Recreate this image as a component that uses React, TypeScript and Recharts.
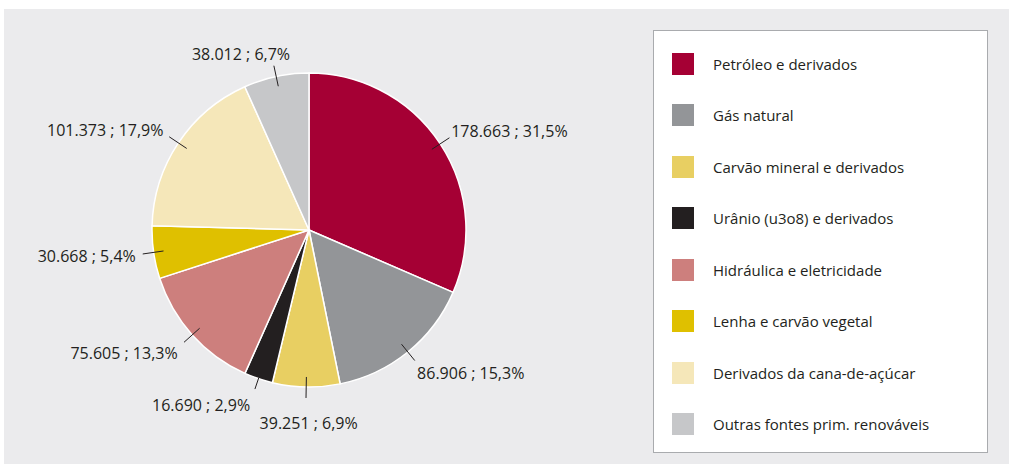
import { PieChart, Pie, Cell, Legend } from 'recharts'

// Oferta interna de energia por fonte (mil tep ; %)
const sources = [
  'Petróleo e derivados',
  'Gás natural',
  'Carvão mineral e derivados',
  'Urânio (u3o8) e derivados',
  'Hidráulica e eletricidade',
  'Lenha e carvão vegetal',
  'Derivados da cana-de-açúcar',
  'Outras fontes prim. renováveis',
]
const amounts = [178663, 86906, 39251, 16690, 75605, 30668, 101373, 38012]
const amountLabels = ['178.663', '86.906', '39.251', '16.690', '75.605', '30.668', '101.373', '38.012']
const shareLabels = ['31,5%', '15,3%', '6,9%', '2,9%', '13,3%', '5,4%', '17,9%', '6,7%']
const colors = ['#a50034', '#939598', '#e8cf62', '#231f20', '#cd7f7d', '#dfc000', '#f5e7b9', '#c6c7c9']

const data = sources.map((name, i) => ({
  name,
  value: amounts[i],
  label: `${amountLabels[i]} ; ${shareLabels[i]}`,
}))

const FONT = '"Open Sans", "Noto Sans", sans-serif'
const TEXT = '#231f20'
const RADIAN = Math.PI / 180

const clamp = (v: number) => Math.max(-1, Math.min(1, v))

const renderLabel = (props: any) => {
  const { cx, cy, midAngle, outerRadius, payload, index } = props
  const ux = Math.cos(-midAngle * RADIAN)
  const uy = Math.sin(-midAngle * RADIAN)
  const r1 = index === 3 ? outerRadius - 1 : outerRadius - 10
  const r2 = outerRadius + 11
  const x1 = cx + r1 * ux
  const y1 = cy + r1 * uy
  const x2 = cx + r2 * ux
  const y2 = cy + r2 * uy
  const text: string = payload.label
  const w = text.length * 8
  const k = clamp(ux * 3)
  // text hangs off the end of the leader line, on the side it points to
  const tx = x2 + k * (w / 2 + (ux < 0 ? 4 : 0)) + (1 - Math.abs(k)) * 6
  const ty = y2 + (uy > 0 ? uy * 16 + (1 - Math.abs(k)) * 10 : uy * 12)
  return (
    <g>
      <line x1={x1} y1={y1} x2={x2} y2={y2} stroke={TEXT} strokeWidth={1} />
      <text
        x={tx}
        y={ty}
        textAnchor="middle"
        dominantBaseline="central"
        fill={TEXT}
        fontSize={16}
        fontFamily={FONT}
      >
        {text}
      </text>
    </g>
  )
}

const renderLegend = () => (
  <div
    style={{
      width: 335,
      height: 423,
      boxSizing: 'border-box',
      background: '#ffffff',
      border: '1px solid #a9abae',
      paddingTop: 7,
    }}
  >
    {data.map((d, i) => (
      <div key={d.name} style={{ display: 'flex', alignItems: 'center', height: 51.5 }}>
        <span
          style={{
            display: 'inline-block',
            width: 22,
            height: 22,
            marginLeft: 18,
            background: colors[i],
          }}
        />
        <span style={{ marginLeft: 19, fontSize: 15, fontFamily: FONT, color: TEXT }}>{d.name}</span>
      </div>
    ))}
  </div>
)

export default function App() {
  return (
    <div style={{ position: 'absolute', left: 0, top: 0, width: 1009, height: 464, background: '#ffffff' }}>
      <div style={{ position: 'absolute', left: 4, top: 9, width: 1005, height: 455, background: '#ebebed' }} />
      <div style={{ position: 'absolute', left: 0, top: 0 }}>
        <PieChart width={1009} height={464} margin={{ top: 0, right: 0, bottom: 0, left: 0 }}>
          <Pie
            data={data}
            dataKey="value"
            nameKey="name"
            cx={309}
            cy={230}
            outerRadius={157}
            startAngle={90}
            endAngle={-270}
            stroke="#ffffff"
            strokeWidth={1.5}
            label={renderLabel}
            labelLine={false}
            isAnimationActive={false}
          >
            {data.map((d, i) => (
              <Cell key={d.name} fill={colors[i]} />
            ))}
          </Pie>
          <Legend
            content={renderLegend}
            layout="vertical"
            wrapperStyle={{ position: 'absolute', left: 653, top: 30, width: 335, height: 423 }}
          />
        </PieChart>
      </div>
    </div>
  )
}
